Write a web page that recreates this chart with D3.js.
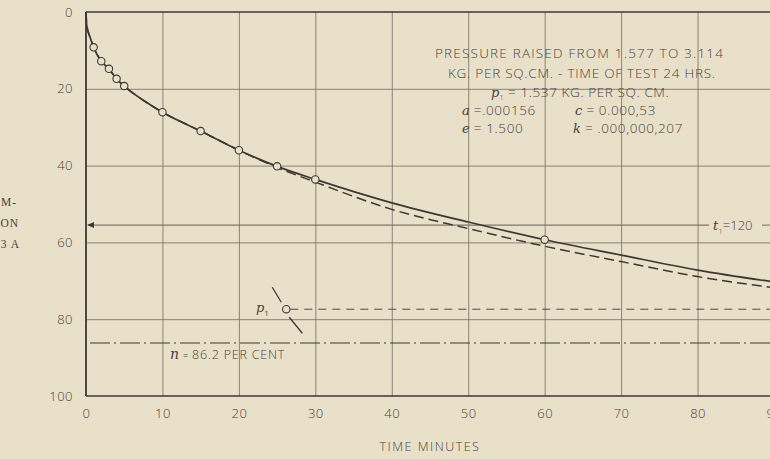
<!DOCTYPE html>
<html>
<head>
<meta charset="utf-8">
<script src="https://cdn.jsdelivr.net/npm/d3@7"></script>
<style>
  html, body { margin: 0; padding: 0; background: #e9e0ca; }
  svg { display: block; }
</style>
</head>
<body>
<svg id="chart" width="770" height="459"></svg>
<script>
// ---- data ----
const xTicks = [0, 10, 20, 30, 40, 50, 60, 70, 80, 90];
const yTicks = [0, 20, 40, 60, 80, 100];
const yTickLabels = ["0", "20", "40", "60", "80", "100"];

// observed points (time minutes, compression %)
const obsTime = [1, 2, 3, 4, 5, 10, 15, 20, 25, 30, 60];
const obsComp = [9.2, 12.8, 14.8, 17.4, 19.3, 26.1, 31.0, 36.0, 40.2, 43.6, 59.3];

// solid curve through observations
const fitTime = [0, 0.1, 0.5, 1, 2, 3, 4, 5, 7.5, 10, 15, 20, 25, 30, 40, 50, 60, 70, 80, 90];
const fitComp = [0, 3.5, 6.4, 9.2, 12.8, 14.8, 17.4, 19.3, 23, 26.1, 31, 36, 40.2, 43.6, 49.7, 54.7, 59.3, 63.3, 67.2, 70.3];

// dashed (theoretical) curve
const theoTime = [0, 0.1, 0.5, 1, 2, 3, 4, 5, 7.5, 10, 15, 20, 25, 30, 40, 50, 60, 70, 80, 90];
const theoComp = [0, 3.5, 6.4, 9.2, 12.8, 14.8, 17.4, 19.3, 23, 26.1, 31, 36, 40.5, 44.3, 51.4, 56.4, 61, 65, 68.9, 71.8];

const t1Level = 55.5;      // t1 = 120 line
const p1Point = [26.2, 77.4];
const nLevel = 86.2;

const annotation = [
  "PRESSURE RAISED FROM 1.577 TO 3.114",
  "KG. PER SQ.CM. - TIME OF TEST 24 HRS."
];

// ---- drawing ----
const svg = d3.select("#chart");
const ink = "#3d3832";
const gridInk = "#7f776b";
const txt = "#48433c";
const bg = "#e9e0ca";
const sans = "'Open Sans', 'DejaVu Sans', sans-serif";

svg.append("rect").attr("width", 770).attr("height", 459).attr("fill", bg);

const x = d3.scaleLinear().domain([0, 90]).range([86, 774]);
const y = d3.scaleLinear().domain([0, 100]).range([12, 396]);

// vertical grid
svg.append("g")
  .attr("transform", `translate(0,${y(100)})`)
  .call(d3.axisBottom(x).tickValues(xTicks.slice(1)).tickSize(-(y(100) - y(0))).tickFormat(""))
  .call(g => g.select(".domain").remove())
  .call(g => g.selectAll("line").attr("stroke", gridInk).attr("stroke-width", 0.9));

// horizontal grid
svg.append("g")
  .attr("transform", `translate(${x(0)},0)`)
  .call(d3.axisRight(y).tickValues([20, 40, 60, 80]).tickSize(800).tickFormat(""))
  .call(g => g.select(".domain").remove())
  .call(g => g.selectAll("line").attr("stroke", gridInk).attr("stroke-width", 0.9));

// frame
svg.append("line").attr("x1", x(0)).attr("x2", 770).attr("y1", y(0)).attr("y2", y(0))
  .attr("stroke", ink).attr("stroke-width", 1.7);
svg.append("line").attr("x1", x(0)).attr("x2", 770).attr("y1", y(100)).attr("y2", y(100))
  .attr("stroke", ink).attr("stroke-width", 1.5);
svg.append("line").attr("x1", x(0)).attr("x2", x(0)).attr("y1", y(0)).attr("y2", y(100))
  .attr("stroke", ink).attr("stroke-width", 1.8);

// x tick labels
svg.append("g")
  .attr("transform", `translate(0,${y(100)})`)
  .call(d3.axisBottom(x).tickValues(xTicks).tickSize(0).tickPadding(13).tickFormat(d3.format("d")))
  .call(g => g.select(".domain").remove())
  .call(g => g.selectAll("text").attr("fill", txt).attr("font-family", sans)
      .attr("font-size", 13).attr("font-weight", 300).attr("letter-spacing", 0.5));

// y tick labels
svg.append("g")
  .attr("transform", `translate(${x(0)},0)`)
  .call(d3.axisLeft(y).tickValues(yTicks).tickSize(0).tickPadding(13)
        .tickFormat((d, i) => yTickLabels[i]))
  .call(g => g.select(".domain").remove())
  .call(g => g.selectAll("text").attr("fill", txt).attr("font-family", sans)
      .attr("font-size", 13).attr("font-weight", 300).attr("letter-spacing", 0.5));

// axis title
svg.append("text").attr("x", 430).attr("y", 451).attr("text-anchor", "middle")
  .attr("font-family", sans).attr("font-size", 12.5).attr("font-weight", 300)
  .attr("letter-spacing", 1.5).attr("fill", txt).text("TIME MINUTES");

// cropped left label
const leftLab = [["M-", 17, 206], ["ON", 19, 227], ["3 A", 20, 248]];
svg.append("g").selectAll("text").data(leftLab).join("text")
  .attr("x", d => d[1]).attr("y", d => d[2]).attr("text-anchor", "end")
  .attr("font-family", "'Liberation Serif', 'DejaVu Serif', serif").attr("font-size", 11.5)
  .attr("letter-spacing", 1).attr("fill", txt).text(d => d[0]);

// t1 line with arrow
svg.append("line").attr("x1", x(0) + 2).attr("x2", 709).attr("y1", y(t1Level)).attr("y2", y(t1Level))
  .attr("stroke", gridInk).attr("stroke-width", 1.1);
svg.append("line").attr("x1", 762).attr("x2", 770).attr("y1", y(t1Level)).attr("y2", y(t1Level))
  .attr("stroke", gridInk).attr("stroke-width", 1.1);
svg.append("path")
  .attr("d", `M${x(0) + 1},${y(t1Level)} l7,-3 l0,6 z`).attr("fill", ink);
const t1 = svg.append("text").attr("x", 713).attr("y", y(t1Level) + 5)
  .attr("font-family", sans).attr("font-size", 13).attr("font-weight", 300).attr("fill", txt);
t1.append("tspan").attr("font-family", "'DejaVu Serif', serif").attr("font-style", "italic").text("t");
t1.append("tspan").attr("font-size", 8).attr("dy", 4).text("1");
t1.append("tspan").attr("dy", -4).text("=120");

// p1 dashed line
svg.append("line").attr("x1", x(p1Point[0]) + 4).attr("x2", 770)
  .attr("y1", y(p1Point[1])).attr("y2", y(p1Point[1]))
  .attr("stroke", ink).attr("stroke-width", 0.9).attr("stroke-dasharray", "8,6");

// n dash-dot line
svg.append("line").attr("x1", x(0) + 4).attr("x2", 770)
  .attr("y1", y(nLevel)).attr("y2", y(nLevel))
  .attr("stroke", ink).attr("stroke-width", 1).attr("stroke-dasharray", "20,4,2,4");

// curves
const line = d3.line().curve(d3.curveMonotoneX).x(d => x(d[0])).y(d => y(d[1]));
svg.append("path").datum(theoTime.map((t, i) => [t, theoComp[i]]))
  .attr("d", line).attr("fill", "none").attr("stroke", ink)
  .attr("stroke-width", 1.5).attr("stroke-dasharray", "10,5");
svg.append("path").datum(fitTime.map((t, i) => [t, fitComp[i]]))
  .attr("d", line).attr("fill", "none").attr("stroke", ink).attr("stroke-width", 1.7);

// observation circles
svg.append("g").selectAll("circle").data(obsTime.map((t, i) => [t, obsComp[i]])).join("circle")
  .attr("cx", d => x(d[0])).attr("cy", d => y(d[1])).attr("r", 3.7)
  .attr("fill", bg).attr("stroke", ink).attr("stroke-width", 1.1);

// p1 marker: circle with slanted stroke
const px = x(p1Point[0]), py = y(p1Point[1]);
svg.append("line").attr("x1", px - 14).attr("y1", py - 22).attr("x2", px - 5).attr("y2", py - 7)
  .attr("stroke", ink).attr("stroke-width", 1.3);
svg.append("line").attr("x1", px + 3).attr("y1", py + 8).attr("x2", px + 16).attr("y2", py + 24)
  .attr("stroke", ink).attr("stroke-width", 1.3);
svg.append("circle").attr("cx", px).attr("cy", py).attr("r", 3.7)
  .attr("fill", bg).attr("stroke", ink).attr("stroke-width", 1.1);
const p1 = svg.append("text").attr("x", 256).attr("y", py + 3)
  .attr("font-family", "'DejaVu Serif', serif").attr("font-size", 13).attr("fill", txt);
p1.append("tspan").attr("font-style", "italic").text("p");
p1.append("tspan").attr("font-size", 8).attr("dy", 4).attr("font-family", sans).text("1");

// n label
const nl = svg.append("text").attr("x", 170).attr("y", 359)
  .attr("font-family", sans).attr("font-size", 12.5).attr("font-weight", 300)
  .attr("fill", txt).attr("letter-spacing", 0.8);
nl.append("tspan").attr("font-family", "'DejaVu Serif', serif").attr("font-style", "italic")
  .attr("font-size", 14).text("n");
nl.append("tspan").attr("font-size", 9).text(" = ");
nl.append("tspan").text("86.2 PER CENT");

// annotation block
const annG = svg.append("g").attr("font-family", sans).attr("font-weight", 300)
  .attr("fill", txt).attr("font-size", 13.5);
annG.append("text").attr("x", 435).attr("y", 58).attr("textLength", 288)
  .attr("lengthAdjust", "spacing").text(annotation[0]);
annG.append("text").attr("x", 448).attr("y", 78).attr("textLength", 267)
  .attr("lengthAdjust", "spacing").text(annotation[1]);

function eqText(xPos, yPos, sym, sub, rest) {
  const t = annG.append("text").attr("x", xPos).attr("y", yPos);
  t.append("tspan").attr("font-family", "'DejaVu Serif', serif").attr("font-style", "italic")
    .attr("font-size", 13).text(sym);
  if (sub) t.append("tspan").attr("font-size", 8).attr("dy", 3).text(sub);
  t.append("tspan").attr("dy", sub ? -3 : 0).attr("letter-spacing", 0.6).text(rest);
}
eqText(491, 97, "p", "1", " = 1.537 KG. PER  SQ. CM.");
eqText(462, 115, "a", null, " =.000156");
eqText(575, 115, "c", null, " = 0.000,53");
eqText(462, 133, "e", null, " =  1.500");
eqText(573, 133, "k", null, " = .000,000,207");
</script>
</body>
</html>
